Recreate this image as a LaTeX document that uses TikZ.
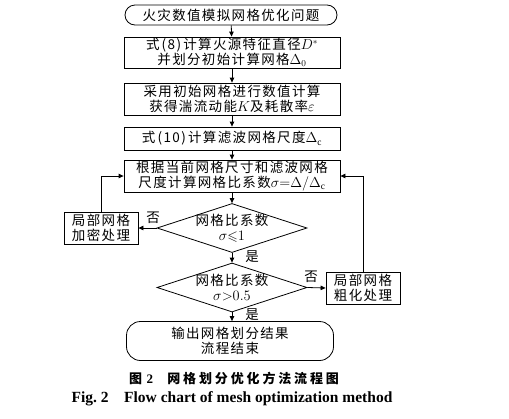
\documentclass[tikz,border=0pt]{standalone}
\usepackage{amsmath,amssymb}
\usepackage{fontspec}
\setmainfont{Liberation Serif}
\newfontfamily\cjk{Noto Sans CJK SC}[LetterSpace=10]
\newfontfamily\cjkcap{Noto Sans CJK SC}[LetterSpace=22]
\usetikzlibrary{shapes.geometric,arrows.meta}
\tikzset{
  txt/.style={align=center,inner sep=0pt,font=\fontsize{13.5}{15}\selectfont\cjk},
  box/.style={txt,draw,line width=0.8pt,minimum width=216pt},
  term/.style={box,rounded corners=#1},
  decision/.style={diamond,draw,line width=0.8pt,minimum width=150pt,minimum height=49pt,inner sep=0pt},
  flow/.style={line width=0.8pt,-{Triangle[length=5pt,width=4.5pt]}}
}

\begin{document}
\begin{tikzpicture}[x=1pt,y=-1pt]
  \useasboundingbox (0,0) rectangle (509,418);
  \node[term=10pt,minimum width=212pt,minimum height=20pt] (start) at (231,15) {火灾数值模拟网格优化问题};
  \node[box,minimum height=31pt] (diam) at (232,52.5) {式\,(8)\,计算火源特征直径$D^{*}$\\并划分初始计算网格$\Delta_0$};
  \node[box,minimum height=32pt] (init) at (232,99) {采用初始网格进行数值计算\\获得湍流动能$K$及耗散率$\varepsilon$};
  \node[box,minimum height=23pt] (filt) at (232,138.5) {式\,(10)\,计算滤波网格尺度$\Delta_{\mathrm{c}}$};
  \node[box,minimum height=32pt] (ratio) at (232,176) {根据当前网格尺寸和滤波网格\\尺度计算网格比系数$\sigma{=}\Delta/\Delta_{\mathrm{c}}$};
  \node[decision] (dec1) at (232,228) {};
  \node[txt] (dec1txt) at (dec1) {网格比系数\\$\sigma{\leqslant}1$};
  \node[decision] (dec2) at (232,287.5) {};
  \node[txt] (dec2txt) at (dec2) {网格比系数\\$\sigma{>}0.5$};
  \node[box,minimum width=74pt,minimum height=32pt] (refine) at (101,228) {局部网格\\加密处理};
  \node[box,minimum width=74pt,minimum height=32pt] (coarse) at (363,288) {局部网格\\粗化处理};
  \node[term=14pt,minimum width=207pt,minimum height=39pt] (stop) at (230,341) {输出网格划分结果\\流程结束};

  \draw[flow] (start) -- (diam);
  \draw[flow] (diam) -- (init);
  \draw[flow] (init) -- (filt);
  \draw[flow] (filt) -- (ratio);
  \draw[flow] (ratio) -- (dec1);
  \draw[flow] (dec1) -- (dec2);
  \draw[flow] (dec2.south) -- (dec2.south |- stop.north);
  \draw[flow] (dec1.west) -- (refine.east);
  \draw[flow] (dec2.east) -- (coarse.west);
  \draw[flow] (refine.north) |- (ratio.west);
  \draw[flow] (coarse.north) |- (ratio.east);

  \node[txt] (no1) at (153,218) {否};
  \node[txt] (yes1) at (252,257) {是};
  \node[txt] (no2) at (311,277) {否};
  \node[txt] (yes2) at (252,315) {是};

  \node (capzh) at (234,378.5) {\fontsize{13}{15}\selectfont{\cjkcap\bfseries 图}\hspace{0.35em}{\bfseries 2}\hspace{1.1em}{\cjkcap\bfseries 网格划分优化方法流程图}};
  \node (capen) at (232,399) {\fontsize{15.5}{17}\selectfont\bfseries Fig.~2\hspace{1em}Flow chart of mesh optimization method};
\end{tikzpicture}
\end{document}
